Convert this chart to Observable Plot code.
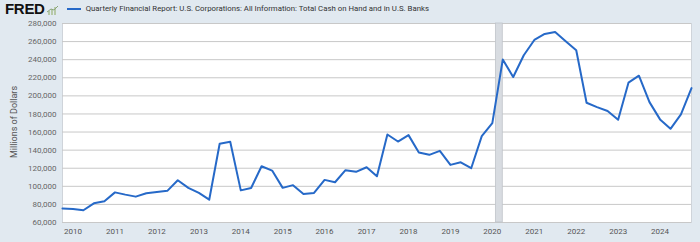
<!DOCTYPE html>
<html>
<head>
<meta charset="utf-8">
<script src="https://cdn.jsdelivr.net/npm/d3@7"></script>
<script src="https://cdn.jsdelivr.net/npm/@observablehq/plot@0.6"></script>
<style>
  html, body { margin: 0; padding: 0; background: #e1e9f0; }
  #wrap { position: relative; width: 700px; height: 242px; overflow: hidden; font-family: Roboto, "Open Sans", sans-serif; }
  #header { position: absolute; left: 0; top: 0; height: 17px; width: 700px; display: flex; align-items: center; }
  #logo { font-family: "Liberation Sans", Arial, sans-serif; font-weight: 900; font-size: 15px; color: #111; margin-left: 5px; letter-spacing: -0.3px; line-height: 17px; }
  #icon { margin-left: 2px; margin-top: 3px; }
  #legline { width: 14px; height: 2px; background: #2669c8; margin-left: 9px; }
  #title { font-size: 7.8px; color: #333; margin-left: 5px; white-space: nowrap; }
  #ylabel { position: absolute; left: 14px; top: 122px; transform: translate(-50%, -50%) rotate(-90deg); font-size: 9px; color: #555; white-space: nowrap; }
  #chart { position: absolute; left: 0; top: 0; }
</style>
</head>
<body>
<div id="wrap">
  <div id="chart"></div>
  <div id="header">
    <span id="logo">FRED</span>
    <svg id="icon" width="11" height="9" viewBox="0 0 11 9"><rect x="1" y="5" width="2" height="4" fill="#b7c9a8"/><rect x="4" y="3" width="2" height="6" fill="#b7c9a8"/><rect x="7" y="1" width="2" height="8" fill="#b7c9a8"/><polyline points="0,6 4,3 7,4 11,0" fill="none" stroke="#8aa57a" stroke-width="1"/></svg>
    <span id="legline"></span>
    <span id="title">Quarterly Financial Report: U.S. Corporations: All Information: Total Cash on Hand and in U.S. Banks</span>
  </div>
  <div id="ylabel">Millions of Dollars</div>
</div>
<script>
// Quarterly observations, 2009Q4 .. 2024Q4 (millions of dollars)
const startQuarter = "2009-10-01";
const values = [
  75600, 75000, 73500, 81200, 83600, 93300, 90800, 88600, 92300, 93800,
  95000, 106700, 98300, 92700, 85200, 147000, 149300, 95500, 98100, 122200,
  117400, 98300, 101300, 91500, 92700, 107100, 104500, 117800, 116000, 121100,
  111100, 157300, 149500, 156600, 137400, 134800, 139200, 123700, 126600, 120000,
  155500, 169900, 240100, 220800, 244900, 261800, 268500, 270700, 260400, 250400,
  192400, 187600, 183300, 173600, 214600, 222300, 193100, 174000, 163600, 179500,
  208600
];
const yTicks = [60000, 80000, 100000, 120000, 140000, 160000, 180000, 200000, 220000, 240000, 260000, 280000];
const yearTicks = [2010, 2011, 2012, 2013, 2014, 2015, 2016, 2017, 2018, 2019, 2020, 2021, 2022, 2023, 2024];
const recessions = [{start: "2020-02-01", end: "2020-04-01"}];

const t0 = new Date(startQuarter + "T00:00:00Z");
const data = values.map((v, i) => ({date: d3.utcMonth.offset(t0, 3 * i), value: v}));
const rec = recessions.map(r => ({start: new Date(r.start + "T00:00:00Z"), end: new Date(r.end + "T00:00:00Z")}));
const xTickDates = yearTicks.map(y => new Date(Date.UTC(y, 0, 1)));

const chart = Plot.plot({
  width: 700,
  height: 242,
  marginLeft: 62,
  marginRight: 9,
  marginTop: 23,
  marginBottom: 20,
  style: {background: "transparent", fontFamily: "Roboto, sans-serif", fontSize: "8px", color: "#555"},
  x: {type: "utc", domain: [data[0].date, data[data.length - 1].date], label: null},
  y: {domain: [60000, 280000], label: null},
  marks: [
    Plot.frame({fill: "white", stroke: "#cfd4da"}),
    Plot.gridY(yTicks, {stroke: "#c8c8c8", strokeOpacity: 1, strokeWidth: 1}),
    Plot.rectX(rec, {x1: "start", x2: "end", fill: "#d8dce1", stroke: "#bfc4ca", strokeWidth: 0.8}),
    Plot.line(data, {x: "date", y: "value", stroke: "#2669c8", strokeWidth: 2, strokeLinejoin: "round"}),
    Plot.axisX({ticks: xTickDates, tickFormat: d3.utcFormat("%Y"), tickSize: 0, tickPadding: 6, fill: "#555"}),
    Plot.axisY({ticks: yTicks, tickFormat: d3.format(","), tickSize: 0, tickPadding: 6, fill: "#666"})
  ]
});
document.getElementById("chart").appendChild(chart);
</script>
</body>
</html>
